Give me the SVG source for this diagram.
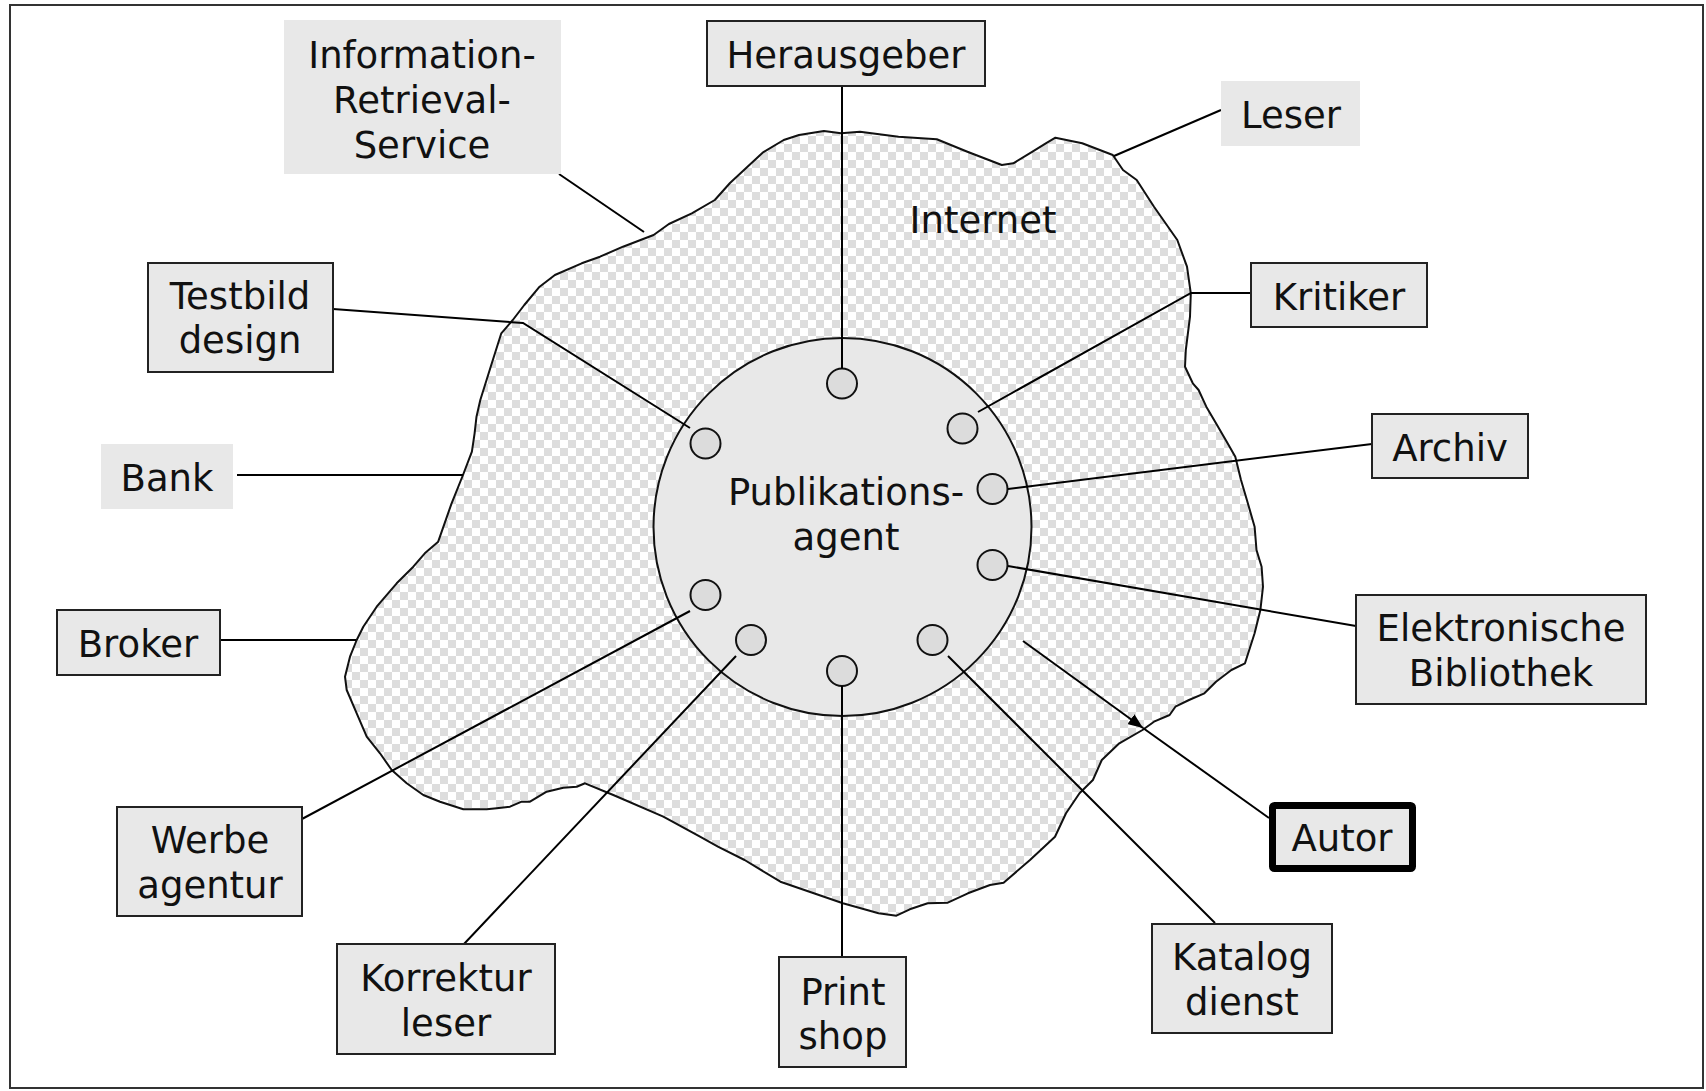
<svg xmlns="http://www.w3.org/2000/svg" width="1706" height="1091" viewBox="0 0 1706 1091">
<defs>
<pattern id="checker" width="16" height="16" patternUnits="userSpaceOnUse">
<rect width="16" height="16" fill="#ffffff"/>
<rect width="8" height="8" fill="#dddddd"/>
<rect x="8" y="8" width="8" height="8" fill="#dddddd"/>
</pattern>
<marker id="arrow" markerWidth="16" markerHeight="12" refX="15" refY="6" orient="auto" markerUnits="userSpaceOnUse">
<path d="M0,0 L15,6 L0,12 Z" fill="#000"/>
</marker>
<style>
text{font-family:"DejaVu Sans","Verdana","Liberation Sans",sans-serif;font-size:37px;fill:#111;text-anchor:middle}
.box{fill:#e8e8e8;stroke:#222;stroke-width:2}
.plain{fill:#e8e8e8;stroke:none}
.conn{fill:none;stroke:#000;stroke-width:2}
.port{fill:#dcdcdc;stroke:#111;stroke-width:2}
</style>
</defs>
<rect x="10" y="5" width="1693" height="1083" fill="#fff" stroke="#333" stroke-width="2"/>
<g id="internet">
<path fill="url(#checker)" stroke="#111" stroke-width="2" stroke-linejoin="round" d="M823.9,131 L841,133.3 L860,131.7 L898.5,136.7 L936.8,139.3 L967.4,151.7 L1001.8,165 L1013.3,163.3 L1032.5,151.7 L1045.8,143.3 L1055.4,137.7 L1082.2,143.3 L1112.8,155 L1123,170 L1136.7,180 L1154,206.7 L1177.3,240 L1187,266.7 L1190.8,293.3 L1190,316.7 L1185.8,350 L1185,366.7 L1192.8,383.3 L1198.6,390 L1206.3,406.7 L1216,423.3 L1227.6,443.3 L1235.3,456.7 L1241,480 L1246.9,500 L1254.6,526.7 L1256.5,550 L1261.6,566.7 L1263,586.7 L1260.4,610 L1254.6,633.3 L1245,663.3 L1231.4,670 L1216,681.7 L1204.4,693.3 L1189,700 L1175.4,706.7 L1169.6,715 L1154,721.7 L1142.5,730 L1119.3,743.3 L1101.8,760 L1092.9,780 L1079.5,793.3 L1066,813.3 L1055,836.7 L1030,860 L1003.6,882.7 L990,885 L967.9,893.3 L947.8,902.7 L927.7,903.3 L909.8,909.3 L896.4,915.7 L878.6,913.3 L842.9,903.3 L780.4,881.7 L744.6,860 L717.9,846.7 L700,836.7 L663.3,816.7 L613.3,795 L585,783.3 L576.7,786.7 L563.3,787.7 L546.7,791.7 L530,801.7 L521.7,801.7 L510,806.7 L496.7,808.3 L486.7,809.3 L463.3,809.3 L440,801.7 L423.3,795 L406.7,783.3 L391.7,770 L380,753.3 L366.7,736.7 L356.7,713.3 L346.7,690 L345,676.7 L350,656.7 L356.7,640 L363.3,626.7 L376.7,606.7 L396.7,583.3 L413.3,566.7 L424.8,553.3 L438.2,541.7 L451.6,503.3 L463,475 L471.9,451.7 L474.6,433.3 L476.5,416.7 L480.3,400 L491.8,363.3 L501.3,333.3 L512.8,320 L524.3,305 L539.6,286.7 L554.9,275 L581.7,263.3 L600,256.7 L623,246.7 L653.6,235 L668.9,224 L691.8,213.3 L714.8,200 L730,183 L762.6,152.7 L783.7,140 L799,135 Z"/>
<text x="983" y="233">Internet</text>
</g>
<g id="publikationsagent">
<circle cx="842.5" cy="527" r="189" fill="#e8e8e8" stroke="#111" stroke-width="2"/>
<text x="846" y="505">Publikations-</text>
<text x="846" y="550">agent</text>
<circle class="port" cx="842" cy="383.5" r="15"/>
<circle class="port" cx="705.5" cy="443.5" r="15"/>
<circle class="port" cx="962.5" cy="428.5" r="15"/>
<circle class="port" cx="992.5" cy="489" r="15"/>
<circle class="port" cx="992.5" cy="565" r="15"/>
<circle class="port" cx="932.5" cy="640" r="15"/>
<circle class="port" cx="842" cy="671" r="15"/>
<circle class="port" cx="751" cy="640" r="15"/>
<circle class="port" cx="705.5" cy="595" r="15"/>
</g>
<g id="connectors">
<path class="conn" d="M842,86 L842,368.5"/>
<path class="conn" d="M559,174 L644,232"/>
<path class="conn" d="M1221,110 L1114,156"/>
<path class="conn" d="M333,309 L523,323 L690,428"/>
<path class="conn" d="M1251,293 L1191,293 L978,412"/>
<path class="conn" d="M237,475 L463,475"/>
<path class="conn" d="M1372,444 L1008,489"/>
<path class="conn" d="M220,640 L356,640"/>
<path class="conn" d="M1356,626 L1008,566"/>
<path class="conn" d="M302,819 L690,611"/>
<path class="conn" d="M464,944 L736,656"/>
<path class="conn" d="M842,686 L842,957"/>
<path class="conn" d="M1215,923 L948,656"/>
<path class="conn" d="M1023,641 L1143,728" marker-end="url(#arrow)"/>
<path class="conn" d="M1143,728 L1269,818"/>
</g>
<g id="information-retrieval-service">
<rect class="plain" x="284" y="20" width="277" height="154"/>
<text x="422" y="68">Information-</text>
<text x="422" y="113">Retrieval-</text>
<text x="422" y="158">Service</text>
</g>
<g id="herausgeber">
<rect class="box" x="707" y="21" width="278" height="65"/>
<text x="846" y="68">Herausgeber</text>
</g>
<g id="leser">
<rect class="plain" x="1221" y="81" width="139" height="65"/>
<text x="1291" y="128">Leser</text>
</g>
<g id="testbild-design">
<rect class="box" x="148" y="263" width="185" height="109"/>
<text x="240" y="309">Testbild</text>
<text x="240" y="353">design</text>
</g>
<g id="kritiker">
<rect class="box" x="1251" y="263" width="176" height="64"/>
<text x="1339" y="310">Kritiker</text>
</g>
<g id="bank">
<rect class="plain" x="101" y="444" width="132" height="65"/>
<text x="167" y="491">Bank</text>
</g>
<g id="archiv">
<rect class="box" x="1372" y="414" width="156" height="64"/>
<text x="1450" y="461">Archiv</text>
</g>
<g id="broker">
<rect class="box" x="57" y="610" width="163" height="65"/>
<text x="138" y="657">Broker</text>
</g>
<g id="elektronische-bibliothek">
<rect class="box" x="1356" y="595" width="290" height="109"/>
<text x="1501" y="641">Elektronische</text>
<text x="1501" y="686">Bibliothek</text>
</g>
<g id="werbeagentur">
<rect class="box" x="117" y="807" width="185" height="109"/>
<text x="210" y="853">Werbe</text>
<text x="210" y="898">agentur</text>
</g>
<g id="autor">
<rect x="1272.5" y="805.5" width="140" height="63" rx="2" fill="#e8e8e8" stroke="#000" stroke-width="7"/>
<text x="1342" y="851">Autor</text>
</g>
<g id="korrekturleser">
<rect class="box" x="337" y="944" width="218" height="110"/>
<text x="446" y="991">Korrektur</text>
<text x="446" y="1036">leser</text>
</g>
<g id="printshop">
<rect class="box" x="779" y="957" width="127" height="110"/>
<text x="843" y="1005">Print</text>
<text x="843" y="1049">shop</text>
</g>
<g id="katalogdienst">
<rect class="box" x="1152" y="924" width="180" height="109"/>
<text x="1242" y="970">Katalog</text>
<text x="1242" y="1015">dienst</text>
</g>
</svg>
